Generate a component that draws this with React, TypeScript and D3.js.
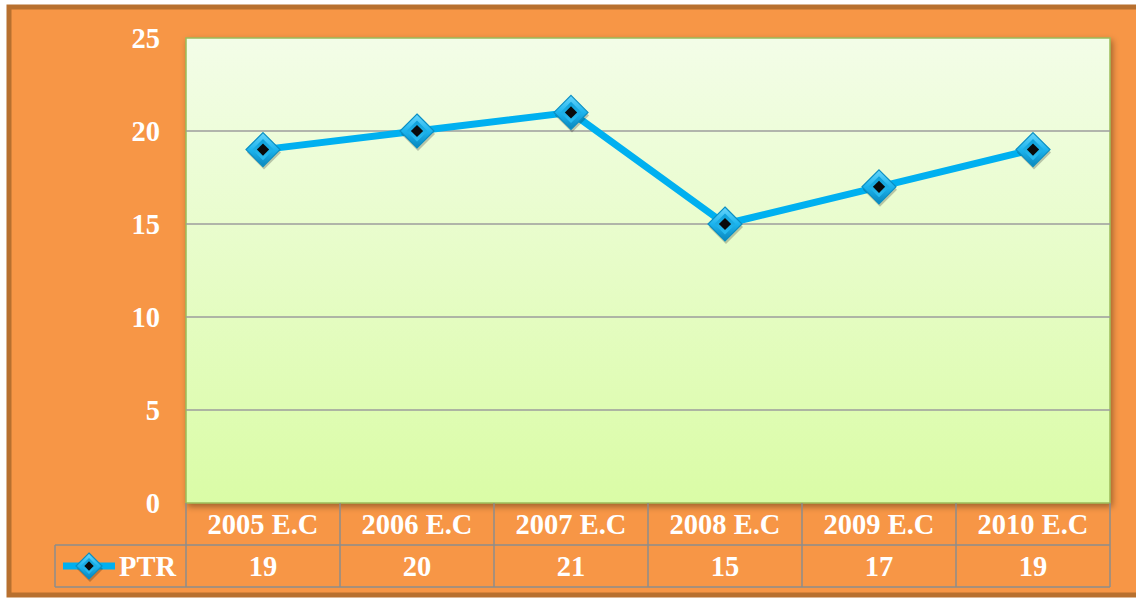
import React from "react";
import * as d3 from "d3";

const categories = ["2005 E.C", "2006 E.C", "2007 E.C", "2008 E.C", "2009 E.C", "2010 E.C"];
const ptrValues = [19, 20, 21, 15, 17, 19];
const yTicks = [0, 5, 10, 15, 20, 25];
const seriesName = "PTR";

const W = 1136;
const H = 599;

export default function App() {
  const left = 186, right = 1110, top = 38, bottom = 503;
  const rowH = 42;
  const legendLeft = 55;
  const x = d3.scaleBand<string>().domain(categories).range([left, right]);
  const y = d3.scaleLinear().domain([0, 25]).range([bottom, top]);
  const cx = (c: string) => (x(c) ?? 0) + x.bandwidth() / 2;
  const line = d3.line<number>().x((_, i) => cx(categories[i])).y((v) => y(v));
  const font = "'Liberation Serif', 'Times New Roman', serif";
  const fs = 28.5;

  const diamond = (px: number, py: number, r: number, key: string | number) => (
    <g key={key} transform={`translate(${px},${py})`}>
      <path d={`M1,${-r + 3}L${r + 1},3L1,${r + 3}L${-r + 1},3Z`} fill="rgba(0,0,0,0.22)" />
      <path d={`M0,${-r}L${r},0L0,${r}L${-r},0Z`} fill="url(#mk)" stroke="#0a8fc4" strokeWidth={1.2} />
      <path d={`M0,${-r * 0.62}L${r * 0.62},0L0,${r * 0.62}L${-r * 0.62},0Z`} fill="url(#mk2)" />
      <path d={`M0,${-r * 0.36}L${r * 0.36},0L0,${r * 0.36}L${-r * 0.36},0Z`} fill="#0a0a0a" />
    </g>
  );

  return (
    <svg width={W} height={H} style={{ position: "absolute", left: 0, top: 0 }}>
      <defs>
        <linearGradient id="bg" x1="0" y1="0" x2="0" y2="1">
          <stop offset="0" stopColor="#f3fde8" />
          <stop offset="1" stopColor="#dafca6" />
        </linearGradient>
        <linearGradient id="mk" x1="0" y1="0" x2="0" y2="1">
          <stop offset="0" stopColor="#6ad6fc" />
          <stop offset="0.5" stopColor="#1cb4ee" />
          <stop offset="1" stopColor="#0a86bd" />
        </linearGradient>
        <linearGradient id="mk2" x1="0" y1="0" x2="0" y2="1">
          <stop offset="0" stopColor="#0e9fd8" />
          <stop offset="1" stopColor="#2bbdf2" />
        </linearGradient>
        <filter id="sh" x="-5%" y="-5%" width="110%" height="115%">
          <feDropShadow dx="2" dy="3" stdDeviation="3" floodColor="#000" floodOpacity="0.35" />
        </filter>
      </defs>
      <rect x={0} y={0} width={W} height={H} fill="#ffffff" />
      <rect x={9} y={7} width={W + 20} height={588} fill="#f79646" stroke="#b8702f" strokeWidth={5} />
      <rect x={left} y={top} width={right - left} height={bottom - top} fill="url(#bg)" stroke="#9bbb59" strokeWidth={1.5} filter="url(#sh)" />
      {yTicks.filter((t) => t > 0 && t < 25).map((t) => (
        <line key={t} x1={left} x2={right} y1={y(t)} y2={y(t)} stroke="#9d9d9d" strokeWidth={1.5} />
      ))}
      {yTicks.map((t) => (
        <text key={t} x={160} y={y(t)} dy="0.35em" textAnchor="end" fill="#fff" fontFamily={font} fontWeight="bold" fontSize={fs}>{t}</text>
      ))}
      {/* table */}
      <g stroke="#8c8c8c" strokeWidth={1.5} fill="none">
        <line x1={left} x2={left} y1={bottom} y2={bottom + 2 * rowH} />
        {categories.map((c) => (
          <line key={c} x1={(x(c) ?? 0) + x.bandwidth()} x2={(x(c) ?? 0) + x.bandwidth()} y1={bottom} y2={bottom + 2 * rowH} />
        ))}
        <line x1={legendLeft} x2={right} y1={bottom + rowH} y2={bottom + rowH} />
        <line x1={legendLeft} x2={right} y1={bottom + 2 * rowH} y2={bottom + 2 * rowH} />
        <line x1={legendLeft} x2={legendLeft} y1={bottom + rowH} y2={bottom + 2 * rowH} />
      </g>
      {categories.map((c) => (
        <text key={c} x={cx(c)} y={bottom + rowH / 2} dy="0.35em" textAnchor="middle" fill="#fff" fontFamily={font} fontWeight="bold" fontSize={fs}>{c}</text>
      ))}
      {ptrValues.map((v, i) => (
        <text key={i} x={cx(categories[i])} y={bottom + rowH * 1.5} dy="0.35em" textAnchor="middle" fill="#fff" fontFamily={font} fontWeight="bold" fontSize={fs}>{v}</text>
      ))}
      <line x1={63} x2={115} y1={bottom + rowH * 1.5} y2={bottom + rowH * 1.5} stroke="#00b0f0" strokeWidth={7} />
      {diamond(89, bottom + rowH * 1.5, 13, "leg")}
      <text x={119} y={bottom + rowH * 1.5} dy="0.35em" fill="#fff" fontFamily={font} fontWeight="bold" fontSize={fs}>{seriesName}</text>
      {/* series */}
      <path d={line(ptrValues) ?? ""} fill="none" stroke="#00b0f0" strokeWidth={7} strokeLinejoin="round" />
      {ptrValues.map((v, i) => diamond(cx(categories[i]), y(v), 17, i))}
    </svg>
  );
}
